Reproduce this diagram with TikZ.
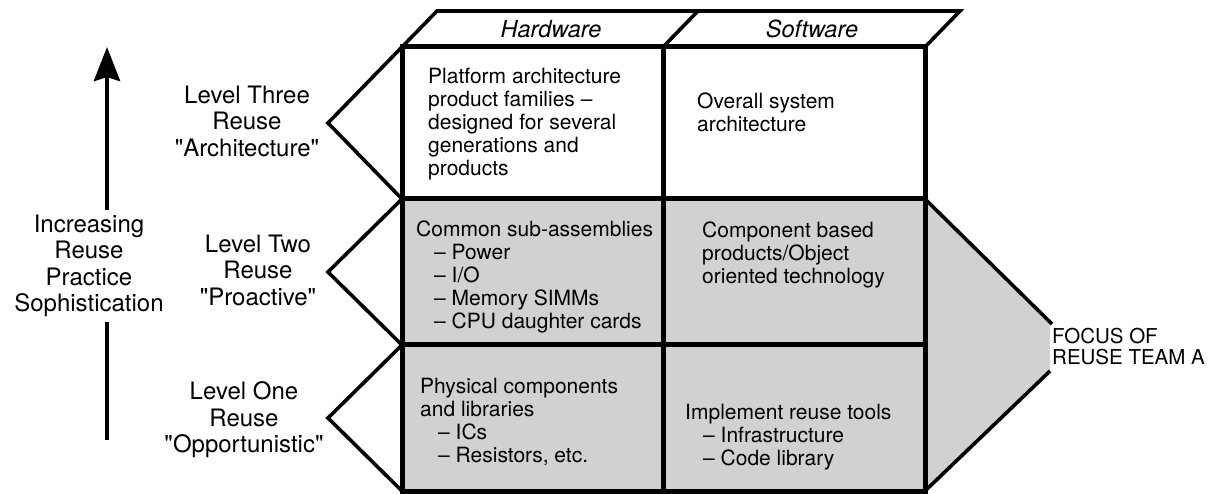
\documentclass[tikz,border=0pt]{standalone}
\usepackage{fontspec}
\setmainfont{TeX Gyre Heros}[Ligatures=TeXOff]
\usetikzlibrary{arrows.meta}
\definecolor{cellgray}{gray}{0.82}
\begin{document}
\begin{tikzpicture}[x=1pt,y=-1pt,
  gridline/.style={line width=5pt},
  rimline/.style={line width=3.6pt, line join=miter},
  axisline/.style={line width=4.5pt},
  cell/.style={anchor=north west, inner sep=0pt, align=left, font=\fontsize{21}{23}\selectfont},
  level/.style={align=center, inner sep=0pt, font=\fontsize{24}{26.5}\selectfont},
  head/.style={inner sep=0pt, font=\fontsize{23.5}{25}\selectfont\itshape},
  focustext/.style={anchor=north west, inner sep=0pt, align=left, font=\fontsize{20.5}{21}\selectfont},
  ]
\useasboundingbox (0,0) rectangle (1216,494);

% shaded lower two levels and the focus pointer
\fill[cellgray] (402,199) rectangle (925,491);
\fill[cellgray] (925,199) -- (1050,323) -- (1050,370) -- (925,491) -- cycle;

% header band and level chevrons
\draw[rimline] (925,47) -- (960,11) -- (437,11) -- (328,123) -- (402,199)
               -- (328,272) -- (402,345) -- (328,418) -- (402,491);
\draw[rimline] (698,11) -- (663,47);

% focus pointer edges
\draw[rimline] (925,199) -- (1052,324);
\draw[rimline] (1050,371) -- (925,491);

% matrix grid
\draw[gridline] (402,47) rectangle (925,491);
\draw[gridline] (402,199) -- (925,199);
\draw[gridline] (402,345) -- (925,345);
\draw[gridline] (663,47) -- (663,491);

% column headings
\node[head] (hw) at (551,29) {Hardware};
\node[head] (sw) at (812,29) {Software};

% cell contents
\node[cell] (c31) at (428,68) {Platform architecture\\product families –\\designed for several\\generations and\\products};
\node[cell] (c32) at (697,93) {Overall system\\architecture};
\node[cell] (c21) at (416,221) {Common sub-assemblies\\\hspace*{18pt}– Power\\\hspace*{18pt}– I/O\\\hspace*{18pt}– Memory SIMMs\\\hspace*{18pt}– CPU daughter cards};
\node[cell] (c22) at (702,222) {Component based\\products/Object\\oriented technology};
\node[cell] (c11) at (420,378) {Physical components\\and libraries\\\hspace*{18pt}– ICs\\\hspace*{18pt}– Resistors, etc.};
\node[cell] (c12) at (685,404) {Implement reuse tools\\\hspace*{18pt}– Infrastructure\\\hspace*{18pt}– Code library};

% level labels
\node[level] (lv3) at (247,121) {Level Three\\Reuse\\"Architecture"};
\node[level] (lv2) at (258,270) {Level Two\\Reuse\\"Proactive"};
\node[level] (lv1) at (244,420) {Level One\\Reuse\\"Opportunistic"};

% sophistication axis
\node[level] (axis) at (89,266) {Increasing\\Reuse\\Practice\\Sophistication};
\coordinate (axtip) at (107,47);
\coordinate (axup) at (107,210);
\coordinate (axdown) at (107,322);
\coordinate (axend) at (107,440);
\draw[axisline, -{Stealth[length=34pt,width=26pt,inset=4pt]}] (axup) -- (axtip);
\draw[axisline] (axdown) -- (axend);

% focus label
\node[focustext] (focus) at (1052,328) {FOCUS OF\\REUSE TEAM A};
\end{tikzpicture}
\end{document}
